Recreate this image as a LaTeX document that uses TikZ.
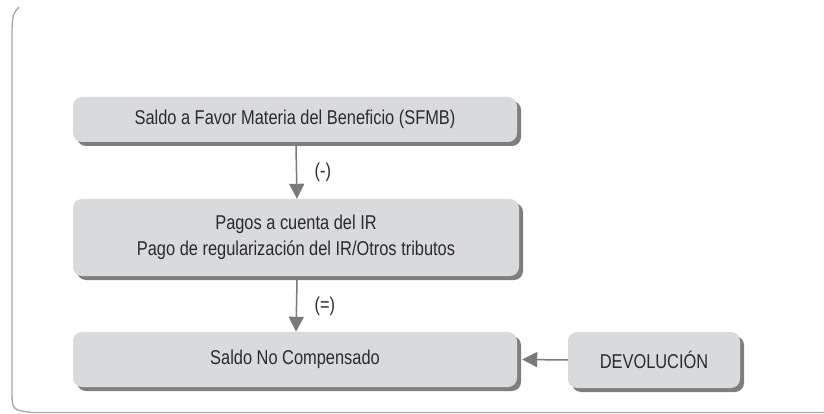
\documentclass[tikz,border=0pt]{standalone}
\usepackage{fontspec}
\setmainfont{Liberation Sans}[FakeStretch=0.82]
\usetikzlibrary{arrows.meta,shadows}

\definecolor{cajagris}{HTML}{D9DADC}
\definecolor{sombragris}{HTML}{7E7E80}
\definecolor{flechagris}{HTML}{7A7A7C}
\definecolor{textogris}{HTML}{2A2A30}
\definecolor{marcogris}{HTML}{A8A8A8}

\begin{document}
\begin{tikzpicture}[x=1pt,y=-1pt,
  caja/.style={fill=cajagris, rounded corners=9pt, inner sep=0pt, align=center,
    text=textogris, font=\fontsize{20}{26}\selectfont,
    drop shadow={shadow xshift=4pt, shadow yshift=-4pt, fill=sombragris, opacity=1}},
  flecha/.style={draw=flechagris, line width=1.5pt, -{Triangle[width=15pt,length=15pt]}},
  signo/.style={right=14pt, text=textogris, font=\fontsize{20}{24}\selectfont},
  marco/.style={draw=marcogris, line width=1.4pt}]

\useasboundingbox (0,0) rectangle (824,414) ;

% marco
\draw[marco] (19,7) .. controls (13,14) .. (12,28) -- (12,390)
  .. controls (12,410) .. (32,412.5) -- (824,412.5) ;

% cajas
\node[caja, minimum width=444pt, minimum height=45pt] (sfmb) at (295,119.5)
  {Saldo a Favor Materia del Beneficio (SFMB)} ;
\node[caja, minimum width=446pt, minimum height=77pt] (pagos) at (296,237.5)
  {Pagos a cuenta del IR\\Pago de regularización del IR/Otros tributos} ;
\node[caja, minimum width=444pt, minimum height=55pt] (saldo) at (295,359.5)
  {Saldo No Compensado} ;
\node[caja, minimum width=172pt, minimum height=56pt] (devol) at (654,360)
  {DEVOLUCIÓN} ;

% flechas
\draw[flecha] ([xshift=1pt,yshift=-4pt]sfmb.south) -- ([xshift=1pt]pagos.north)
  node[signo, midway] (menos) {(-)} ;
\draw[flecha] ([xshift=1pt,yshift=-4pt]pagos.south) -- ([xshift=1pt]saldo.north)
  node[signo, midway] (igual) {(=)} ;
\draw[flecha] (devol.west) -- ([xshift=5pt]saldo.east) ;

\end{tikzpicture}
\end{document}
